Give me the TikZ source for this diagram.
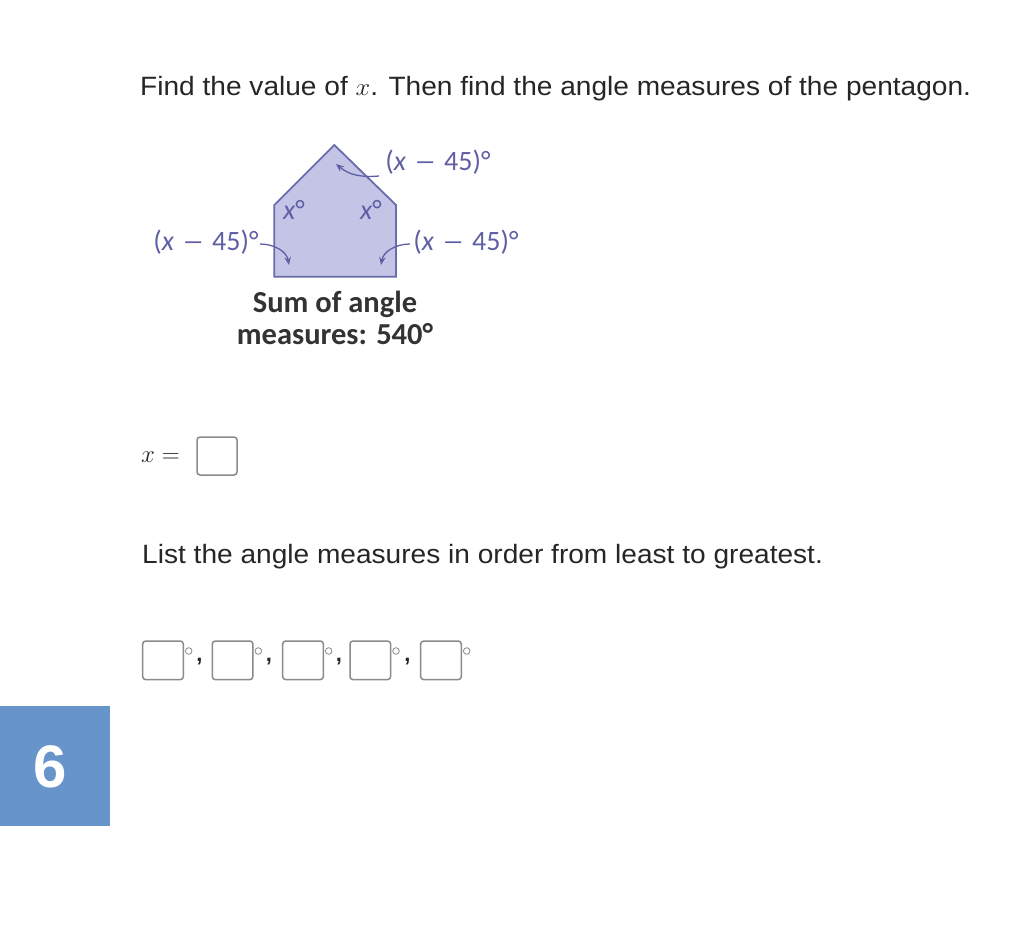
\documentclass[tikz,border=0pt]{standalone}
\usepackage{fontspec}
\setmainfont{Liberation Sans}
\newfontfamily\diagfont{Carlito}
\usetikzlibrary{arrows.meta}
\definecolor{penfill}{HTML}{C4C4E7}
\definecolor{penline}{HTML}{6B6BAE}
\definecolor{labcol}{HTML}{5F5FA6}
\definecolor{sumcol}{HTML}{333333}
\definecolor{txt}{HTML}{262626}
\definecolor{boxcol}{HTML}{8A8A8A}
\definecolor{tabblue}{HTML}{6694CB}
\newcommand{\lmin}{\;\scalebox{1.6}[1]{–}\;}
\begin{document}
\begin{tikzpicture}[x=1pt,y=-1pt,
  lab/.style={font=\diagfont\fontsize{28}{30}\selectfont, text=labcol, inner sep=0pt},
  sumtxt/.style={font=\diagfont\bfseries\fontsize{30.5}{32}\selectfont, text=sumcol, align=center, inner sep=0pt},
  maintxt/.style={font=\fontsize{26.5}{30}\selectfont, text=txt, anchor=west, inner sep=0pt},
  arr/.style={draw=labcol, line width=1.3pt, -{Stealth[length=8pt,width=6.5pt]}},
  ansbox/.style={draw=boxcol, line width=1.5pt, rounded corners=3pt},
  degc/.style={draw=boxcol, line width=0.8pt}
]
\useasboundingbox (0,0) rectangle (1036,936);
\fill[white] (0,0) rectangle (1036,936);

% heading
\node[maintxt] (q1) at (140,89) {\scalebox{1.06}[1]{Find the value of $x$. Then find the angle measures of the pentagon.}};

% pentagon
\coordinate (A) at (334.3,145);
\coordinate (B) at (396,205);
\coordinate (C) at (396,276.7);
\coordinate (D) at (274.3,276.7);
\coordinate (E) at (274.3,205);
\draw[fill=penfill, draw=penline, line width=1.8pt, line join=miter] (A) -- (B) -- (C) -- (D) -- (E) -- cycle;

% labels
\node[lab] (ltop) at (438,162) {(\textit{x}\lmin 45)°};
\node[lab] (lleft) at (206,242) {(\textit{x}\lmin 45)°};
\node[lab] (lright) at (466,242) {(\textit{x}\lmin 45)°};
\node[lab] (xl) at (294,210) {\textit{x}°};
\node[lab] (xr) at (371,210) {\textit{x}°};

% arrows
\coordinate (ts) at (379,176);
\coordinate (te) at (336,164);
\draw[arr] (ts) to[out=185,in=-40] (te);
\coordinate (ls) at (260,244);
\coordinate (le) at (289,265);
\draw[arr] (ls) to[out=0,in=100] (le);
\coordinate (rs) at (410,244);
\coordinate (re) at (381,265);
\draw[arr] (rs) to[out=180,in=80] (re);

% sum text
\node[sumtxt] (sum) at (335,318) {Sum of angle\\measures: 540°};

% x = box
\node[maintxt, font=\fontsize{29}{32}\selectfont] (xeq) at (141,457) {$x=$};
\draw[ansbox] (197,437) rectangle (237,475);

% second question
\node[maintxt] (q2) at (142,557) {\scalebox{1.06}[1]{List the angle measures in order from least to greatest.}};

% answer boxes
\foreach \bx [count=\i] in {142.7,212.3,282.7,350,420.7}{
  \draw[ansbox] (\bx,641) rectangle ++(40.6,38.6);
  \draw[degc] (\bx+46,651) circle (3.3);
}
\foreach \cx in {199.5,269,339,407.5}{
  \node[font=\fontsize{22}{24}\selectfont\bfseries, text=txt, inner sep=0pt] at (\cx,662) {,};
}

% blue tab
\fill[tabblue] (0,706) rectangle (110,826);
\node[font=\bfseries\fontsize{60}{60}\selectfont, text=white, inner sep=0pt] (six) at (50,767) {6};
\end{tikzpicture}
\end{document}
